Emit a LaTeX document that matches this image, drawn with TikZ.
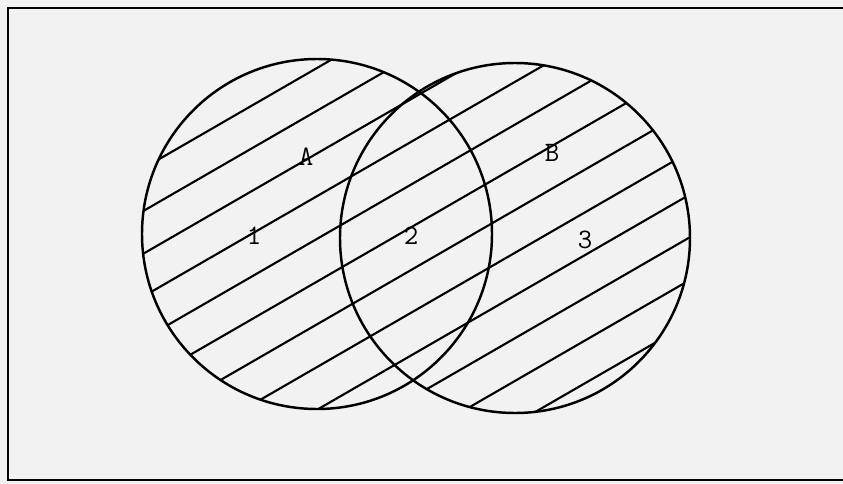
\documentclass[tikz,border=0pt]{standalone}
\usepackage{tikz}
\usetikzlibrary{calc}
\tikzset{
  vnframe/.style={draw, line width=1.6pt},
  vnset/.style={draw, line width=1.4pt},
  vnhatch/.style={draw, line width=1.2pt},
  vnlabel/.style={font=\fontsize{16}{19}\selectfont\ttfamily, inner sep=0pt},
}

\begin{document}
\begin{tikzpicture}[x=0.02cm, y=-0.02cm]
  \useasboundingbox[fill=black!5] (0,0) rectangle (843,484);

  % frame, open on the right
  \draw[vnframe] (843,8) -- (8,8) -- (8,480) -- (843,480);

  % hatching over A union B
  \begin{scope}
    \clip (317,234) circle [radius=175] (515,238) circle [radius=175];
    \begin{scope}[shift={(416,236)}, rotate=30]
      \foreach \k in {0,...,11}
        \draw[vnhatch] (-320,-195+37*\k) -- (320,-195+37*\k);
    \end{scope}
  \end{scope}

  \draw[vnset] (317,234) circle [radius=175];
  \draw[vnset] (515,238) circle [radius=175];

  \node[vnlabel] (labA) at (306,157) {A};
  \node[vnlabel] (labB) at (552,153) {B};
  \node[vnlabel] (reg1) at (254,236) {1};
  \node[vnlabel] (reg2) at (411,236) {2};
  \node[vnlabel] (reg3) at (585,240) {3};
\end{tikzpicture}
\end{document}
